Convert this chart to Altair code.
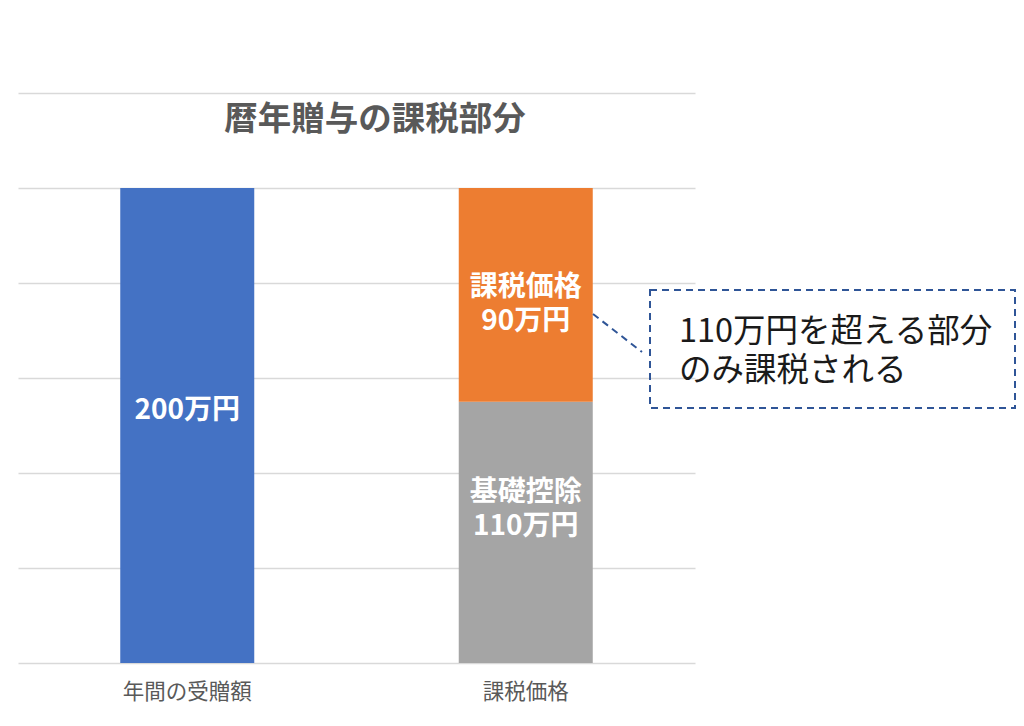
import altair as alt
import pandas as pd

categories = ["年間の受贈額", "課税価格", "課税価格"]
segments = ["年間の受贈額", "基礎控除", "課税価格"]
values = [200, 110, 90]
stack_order = [1, 1, 2]
labels = ["200万円", "基礎控除\n110万円", "課税価格\n90万円"]
colors = ["#4472C4", "#A5A5A5", "#ED7D31"]
title_text = "暦年贈与の課税部分"
note_text = "110万円を超える部分\nのみ課税される"
y_ticks = [0, 40, 80, 120, 160, 200, 240]

df = pd.DataFrame({
    "category": categories,
    "segment": segments,
    "value": values,
    "order": stack_order,
    "label": labels,
})

FONT = "Noto Sans CJK JP"
W, H = 677, 570

base = alt.Chart(df).transform_stack(
    stack="value", groupby=["category"], sort=[{"field": "order"}], as_=["y0", "y1"]
).transform_calculate(mid="(datum.y0 + datum.y1) / 2")

x_enc = alt.X("category:N", sort=["年間の受贈額", "課税価格"],
              scale=alt.Scale(paddingInner=0, paddingOuter=0),
              axis=alt.Axis(title=None, labelAngle=0, labelFont=FONT, labelFontSize=21.5,
                            labelColor="#595959", labelPadding=18, ticks=False, domain=False))
y_scale = alt.Scale(domain=[0, 240], nice=False)
y_axis = alt.Axis(title=None, labels=False, ticks=False, domain=False, values=y_ticks,
                  gridColor="#D9D9D9", gridWidth=1.5)

bars = base.mark_bar(size=134).encode(
    x=x_enc,
    y=alt.Y("y0:Q", scale=y_scale, axis=y_axis),
    y2="y1:Q",
    color=alt.Color("segment:N", scale=alt.Scale(domain=segments, range=colors), legend=None),
)

def label_layer(seg, dy):
    return base.transform_filter(alt.datum.segment == seg).mark_text(
        font=FONT, fontSize=28, fontWeight="bold", color="white",
        lineBreak="\n", lineHeight=34, baseline="middle", align="center", dy=dy,
    ).encode(
        x=alt.X("category:N", sort=["年間の受贈額", "課税価格"]),
        y=alt.Y("mid:Q", scale=y_scale),
        text="label:N",
    )

l1 = label_layer("年間の受贈額", -15)
l2 = label_layer("基礎控除", -39)
l3 = label_layer("課税価格", -7)

title = alt.Chart(pd.DataFrame({"t": [title_text]})).mark_text(
    font=FONT, fontSize=33.5, fontWeight="bold", color="#595959", align="center", baseline="middle"
).encode(x=alt.value(357), y=alt.value(27), text="t:N")

box = alt.Chart(pd.DataFrame({"a": [0]})).mark_rect(
    filled=False, stroke="#2F5597", strokeWidth=2, strokeDash=[7, 5]
).encode(x=alt.value(632), x2=alt.value(997), y=alt.value(197), y2=alt.value(315))

leader = alt.Chart(pd.DataFrame({"a": [0]})).mark_rule(
    stroke="#2F5597", strokeWidth=2, strokeDash=[7, 5]
).encode(x=alt.value(575), x2=alt.value(624), y=alt.value(221), y2=alt.value(259))

note = alt.Chart(pd.DataFrame({"t": [note_text]})).mark_text(
    font=FONT, fontSize=32.5, color="#1a1a1a", align="left", baseline="middle",
    lineBreak="\n", lineHeight=39
).encode(x=alt.value(661), y=alt.value(239), text="t:N")

chart = alt.layer(bars, l1, l2, l3, title, box, leader, note).properties(
    width=W, height=H,
    autosize=alt.AutoSizeParams(type="none"),
    padding={"left": 10, "top": 85, "right": 321, "bottom": 55},
    background="white",
).configure_view(stroke=None)

chart.save("out.html", embed_options={"renderer": "svg", "actions": False})
